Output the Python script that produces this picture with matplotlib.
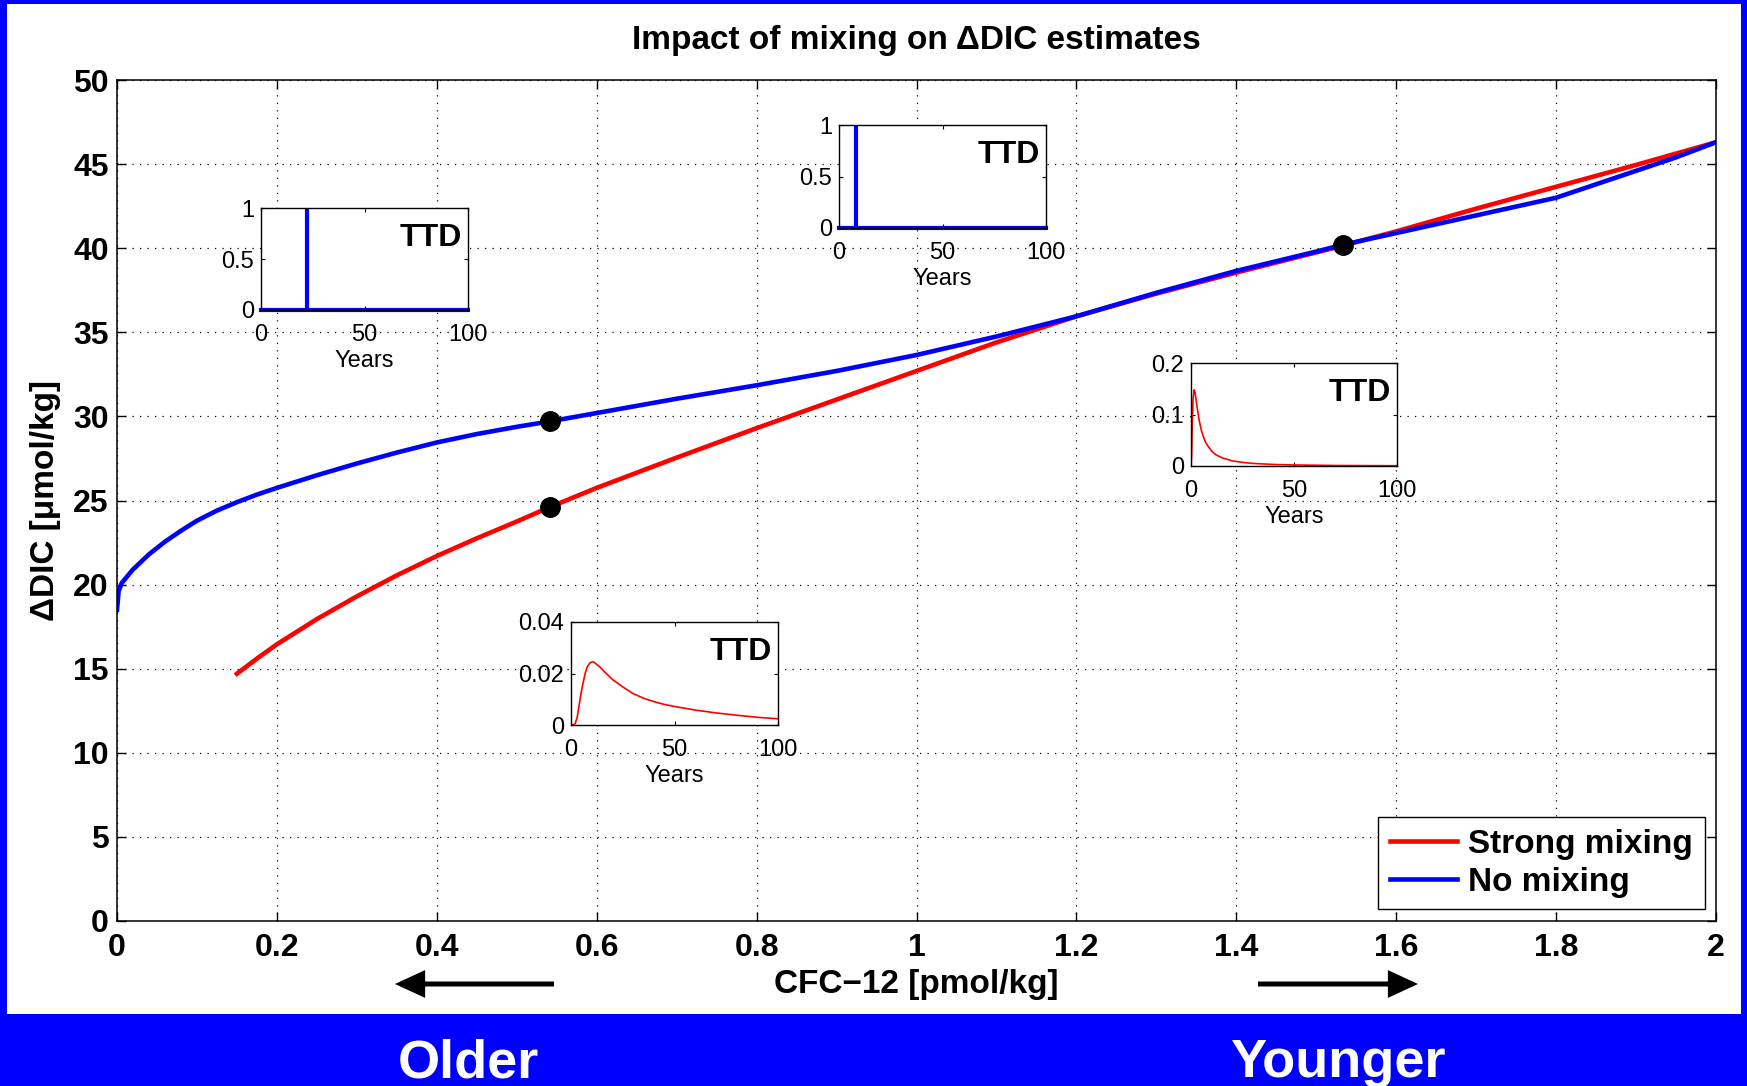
import matplotlib
matplotlib.use('Agg')
import matplotlib.pyplot as plt
from matplotlib.patches import Rectangle, FancyArrowPatch
from matplotlib.ticker import FormatStrFormatter

plt.rcParams['font.family'] = ['Liberation Sans', 'DejaVu Sans']

# Delta DIC vs CFC-12, strong mixing (inverse-Gaussian TTD)
cfc_strong = [0.15, 0.175, 0.2, 0.25, 0.3, 0.35, 0.4, 0.45, 0.5, 0.541, 0.6,
              0.7, 0.8, 0.9, 1.0, 1.1, 1.2, 1.3, 1.4, 1.5, 1.533, 1.6, 1.7,
              1.8, 1.9, 2.0]
dic_strong = [14.7, 15.6, 16.45, 17.95, 19.3, 20.55, 21.7, 22.75, 23.75, 24.6,
              25.75, 27.55, 29.3, 31.0, 32.7, 34.4, 35.95, 37.3, 38.55, 39.75,
              40.15, 41.0, 42.35, 43.65, 44.95, 46.3]

# Delta DIC vs CFC-12, no mixing (single transit time)
cfc_none = [0.0, 0.002, 0.006, 0.02, 0.04, 0.06, 0.08, 0.1, 0.125, 0.15,
            0.175, 0.2, 0.25, 0.3, 0.35, 0.4, 0.45, 0.5, 0.541, 0.6, 0.7,
            0.8, 0.9, 1.0, 1.1, 1.2, 1.3, 1.4, 1.5, 1.533, 1.6, 1.7, 1.8,
            1.85, 1.9, 1.95, 2.0]
dic_none = [18.5, 19.6, 20.1, 20.9, 21.8, 22.55, 23.2, 23.8, 24.4, 24.9,
            25.35, 25.75, 26.5, 27.2, 27.85, 28.45, 28.95, 29.38, 29.7, 30.2,
            31.05, 31.85, 32.7, 33.65, 34.75, 35.95, 37.35, 38.65, 39.8, 40.2,
            40.9, 41.95, 43.0, 43.8, 44.6, 45.4, 46.3]

# highlighted samples
mark_cfc = [0.541, 0.541, 1.533]
mark_dic = [29.7, 24.6, 40.2]

# TTDs for the insets
pulse_ages = [22, 8]   # no mixing: single age (years)
ttd_young_t = [0, 0.3, 0.6, 1, 1.5, 2, 2.5, 3, 4, 5, 6, 7, 8, 10, 12, 15,
               20, 25, 30, 40, 50, 70, 100]
ttd_young_g = [0, 0.02, 0.08, 0.13, 0.148, 0.143, 0.128, 0.113, 0.088, 0.07,
               0.057, 0.047, 0.04, 0.029, 0.022, 0.016, 0.01, 0.007, 0.005,
               0.003, 0.002, 0.001, 0.0005]
ttd_old_t = [0, 1, 2, 3, 4, 5, 6, 7, 8, 9, 10, 11, 12, 14, 16, 20, 25, 30,
             35, 40, 45, 50, 60, 70, 80, 90, 100]
ttd_old_g = [0, 0, 0.0005, 0.003, 0.008, 0.013, 0.017, 0.0205, 0.0228, 0.024,
             0.0245, 0.0245, 0.0238, 0.0225, 0.0208, 0.0177, 0.0148, 0.0122,
             0.0104, 0.0091, 0.008, 0.0072, 0.0058, 0.0047, 0.0038, 0.003,
             0.0024]

W, H = 1747, 1086
fig = plt.figure(figsize=(W / 100, H / 100), dpi=100)
fig.patch.set_facecolor((0, 0, 1))
fig.patches.append(Rectangle((7 / W, 1 - 1014 / H), (1741 - 7) / W, (1014 - 4) / H,
                             transform=fig.transFigure, facecolor='white',
                             edgecolor='none', zorder=-10))


def box(x0, y0, x1, y1):
    return [x0 / W, 1 - y1 / H, (x1 - x0) / W, (y1 - y0) / H]


ax = fig.add_axes(box(117, 80, 1716, 921))
ax.plot(cfc_strong, dic_strong, color=(1, 0, 0), lw=3.3, label='Strong mixing')
ax.plot(cfc_none, dic_none, color=(0, 0, 1), lw=3.3, label='No mixing')
ax.plot(mark_cfc, mark_dic, 'o', color='black', ms=14, zorder=5)

ax.set_xlim(0, 2)
ax.set_ylim(0, 50)
ax.set_xticks([i * 0.2 for i in range(11)])
ax.set_yticks(range(0, 51, 5))
ax.xaxis.set_major_formatter(FormatStrFormatter('%g'))
ax.tick_params(direction='in', top=True, right=True, length=6.5, width=1,
               labelsize=23)
ax.tick_params(axis='x', pad=9)
ax.tick_params(axis='y', pad=6)
for lab in ax.get_xticklabels() + ax.get_yticklabels():
    lab.set_fontweight('bold')
for s in ax.spines.values():
    s.set_linewidth(1.1)
ax.grid(True, color='black', linestyle=(0, (1, 5)), lw=0.9)

ax.set_title('Impact of mixing on \u0394DIC estimates', fontsize=24,
             fontweight='bold', pad=22)
ax.set_xlabel('CFC\u221212 [pmol/kg]', fontsize=24, fontweight='bold', va='center')
ax.xaxis.set_label_coords(0.5, -0.075)
ax.set_ylabel('\u0394DIC [\u03bcmol/kg]', fontsize=24, fontweight='bold', va='center')
ax.yaxis.set_label_coords(-0.045, 0.5)

leg = ax.legend(loc='lower right', bbox_to_anchor=(0.993, 0.014),
                prop={'weight': 'bold', 'size': 24}, fancybox=False,
                edgecolor='black', framealpha=1, handlelength=2.0,
                handletextpad=0.35, labelspacing=0.2, borderpad=0.35,
                borderaxespad=0)
leg.get_frame().set_linewidth(1)

# arrows and age labels below the axis
fig.text(468 / W, 1 - 1077 / H, 'Older', color='white', fontsize=39,
         fontweight='bold', ha='center', va='baseline')
fig.text(1338 / W, 1 - 1077 / H, 'Younger', color='white', fontsize=39,
         fontweight='bold', ha='center', va='baseline')
for x0, x1 in [(554, 395), (1258, 1418)]:
    fig.add_artist(FancyArrowPatch(
        (x0 / W, 1 - 984 / H), (x1 / W, 1 - 984 / H), transform=fig.transFigure,
        arrowstyle='-|>,head_length=1.3,head_width=0.6', color='black', lw=3.6,
        mutation_scale=12, joinstyle='miter', capstyle='butt',
        shrinkA=0, shrinkB=0))


def inset(rect, ymax, yticks):
    a = fig.add_axes(rect)
    a.set_xlim(0, 100)
    a.set_ylim(0, ymax)
    a.set_xticks([0, 50, 100])
    a.set_yticks(yticks)
    a.yaxis.set_major_formatter(FormatStrFormatter('%g'))
    a.tick_params(direction='in', top=True, right=True, length=3, width=0.8,
                  labelsize=17)
    a.tick_params(axis='x', pad=10)
    a.tick_params(axis='y', pad=5)
    a.set_xlabel('Years', fontsize=17, labelpad=3)
    for s in a.spines.values():
        s.set_linewidth(1)
    a.text(0.97, 0.71, 'TTD', transform=a.transAxes, ha='right', va='center',
           fontsize=23, fontweight='bold')
    return a


for rect, age in zip([box(261, 208, 468, 310), box(839, 125, 1046, 228)], pulse_ages):
    a = inset(rect, 1, [0, 0.5, 1])
    a.plot([0, 100], [0, 0], color=(0, 0, 1), lw=3, clip_on=False)
    a.plot([age, age], [0, 1], color=(0, 0, 1), lw=3)

a = inset(box(1191, 363, 1397, 466), 0.2, [0, 0.1, 0.2])
a.plot(ttd_young_t, ttd_young_g, color=(1, 0, 0), lw=1.2)

a = inset(box(571, 622, 778, 725), 0.04, [0, 0.02, 0.04])
a.plot(ttd_old_t, ttd_old_g, color=(1, 0, 0), lw=1.2)

fig.savefig('out.png', dpi=100, facecolor=fig.get_facecolor())
